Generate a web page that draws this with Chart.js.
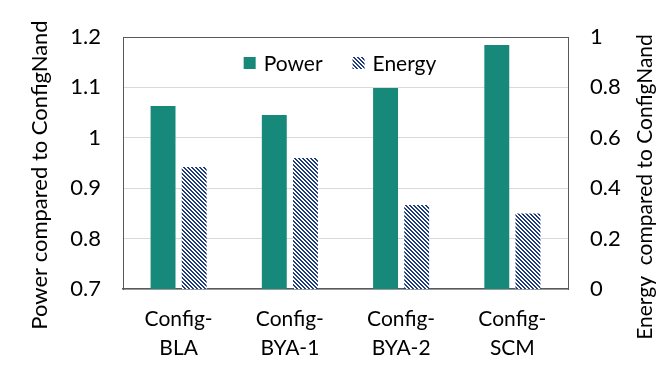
<!DOCTYPE html>
<html>
<head>
<meta charset="utf-8">
<script src="https://cdn.jsdelivr.net/npm/chart.js@4/dist/chart.umd.min.js"></script>
<style>
html,body{margin:0;padding:0;background:#fff}
#wrap{width:658px;height:387px}
</style>
</head>
<body>
<div id="wrap"><canvas id="c" width="658" height="387"></canvas></div>
<script>
const categories = [['Config-','BLA'],['Config-','BYA-1'],['Config-','BYA-2'],['Config-','SCM']];
const power = [1.063, 1.045, 1.099, 1.184];
const energy = [0.484, 0.52, 0.333, 0.30];
const powerTicks = [0.7, 0.8, 0.9, 1, 1.1, 1.2];
const energyTicks = [0, 0.2, 0.4, 0.6, 0.8, 1];

const FONT = 'Lato, "Open Sans", sans-serif';
const teal = '#16897b';
const navy = '#1f3c7c';

function hatch(){
  const s=4, cv=document.createElement('canvas'); cv.width=s; cv.height=s;
  const g=cv.getContext('2d'); g.fillStyle='#fff'; g.fillRect(0,0,s,s); g.fillStyle=navy;
  for(let y=0;y<s;y++) for(let x=0;x<s;x++){const d=((x-y)%s+s)%s; if(d<2) g.fillRect(x,y,1,1);}
  return g.createPattern(cv,'repeat');
}

// axis titles (right one reads bottom-to-top) and in-plot legend
const extras = {
  id:'extras',
  afterDraw(chart){
    const g=chart.ctx;
    function vtext(t,x,y,size){g.save();g.fillStyle='#000';g.font=size+'px '+FONT;g.textAlign='center';g.textBaseline='middle';
      g.translate(x,y);g.rotate(-Math.PI/2);g.fillText(t,0,0);g.restore();}
    vtext('Power compared to ConfigNand',40,175,22);
    vtext('Energy  compared to ConfigNand',645,187,21);

    g.save(); g.font='21px '+FONT; g.textBaseline='middle'; g.fillStyle='#000';
    const items=chart.data.datasets.map(d=>({label:d.label,fill:d.backgroundColor}));
    const box=12, gap=8, sep=30;
    let w=0; items.forEach((it,i)=>{w+=box+gap+g.measureText(it.label).width+(i?sep:0)});
    let x=340-w/2; const y=63;
    items.forEach((it,i)=>{
      if(i) x+=sep;
      g.fillStyle=it.fill; g.fillRect(x,y-6,box,box);
      x+=box+gap; g.fillStyle='#000'; g.fillText(it.label,x,y+1); x+=g.measureText(it.label).width;
    });
    g.restore();
  }
};

new Chart(document.getElementById('c'),{
  type:'bar',
  data:{labels:categories,datasets:[
    {label:'Power',data:power,yAxisID:'y',backgroundColor:teal,borderWidth:0,categoryPercentage:0.56,barPercentage:0.8},
    {label:'Energy',data:energy,yAxisID:'y1',backgroundColor:hatch(),borderWidth:0,categoryPercentage:0.56,barPercentage:0.8}
  ]},
  options:{
    responsive:false,animation:false,
    layout:{padding:{top:37,left:0,right:0,bottom:0}},
    plugins:{tooltip:{enabled:false},legend:{display:false}},
    scales:{
      x:{grid:{display:false,drawTicks:false},border:{display:true,color:'#595959',width:1.5},
        ticks:{font:{family:FONT,size:21,lineHeight:1.38},color:'#000',padding:16,maxRotation:0},
        afterFit(s){s.height=98}},
      y:{position:'left',min:0.7,max:1.2,afterBuildTicks(s){s.ticks=powerTicks.map(v=>({value:v}))},
        grid:{drawTicks:false,color:c=>c.tick&&c.tick.value===1.2?'#595959':'#d9d9d9'},
        border:{display:true,color:'#595959'},
        ticks:{font:{family:FONT,size:22},color:'#000',padding:22,callback:v=>String(Math.round(v*10)/10)},
        afterFit(s){s.width=123}},
      y1:{position:'right',min:0,max:1,afterBuildTicks(s){s.ticks=energyTicks.map(v=>({value:v}))},
        grid:{display:false,drawTicks:false},border:{display:true,color:'#595959'},
        ticks:{font:{family:FONT,size:22},color:'#000',padding:22,callback:v=>String(Math.round(v*10)/10)},
        afterFit(s){s.width=90}}
    }
  },
  plugins:[extras]
});
</script>
</body>
</html>
